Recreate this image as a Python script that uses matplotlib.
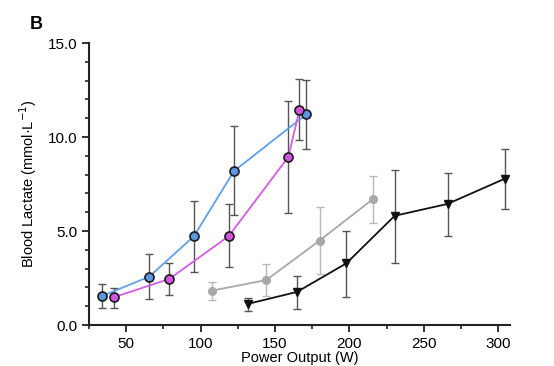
import matplotlib.pyplot as plt
from matplotlib.ticker import MultipleLocator

plt.rcParams['font.family'] = ['Liberation Sans', 'DejaVu Sans']

# blue series (circles)
blue_x = [34, 65.5, 95.5, 122.5, 171]
blue_y = [1.55, 2.57, 4.72, 8.19, 11.2]
blue_lo = [0.89, 1.37, 2.84, 5.84, 9.38]
blue_hi = [2.16, 3.76, 6.61, 10.57, 13.03]

# magenta series (circles)
pink_x = [41.5, 79, 119, 159, 166.5]
pink_y = [1.47, 2.45, 4.73, 8.94, 11.45]
pink_lo = [0.92, 1.6, 3.1, 5.94, 9.82]
pink_hi = [1.95, 3.28, 6.42, 11.93, 13.09]

# grey series
grey_x = [107.7, 144.2, 180, 215.7]
grey_y = [1.83, 2.39, 4.49, 6.69]
grey_lo = [1.33, 1.54, 2.71, 5.41]
grey_hi = [2.3, 3.23, 6.28, 7.95]

# black series (triangles)
black_x = [131.6, 164.8, 198, 230.5, 266, 304.4]
black_y = [1.12, 1.76, 3.28, 5.81, 6.44, 7.78]
black_lo = [0.74, 0.84, 1.51, 3.3, 4.75, 6.15]
black_hi = [1.45, 2.62, 4.98, 8.26, 8.07, 9.38]


def err(y, lo, hi):
    return [[a - b for a, b in zip(y, lo)], [b - a for a, b in zip(y, hi)]]


fig = plt.figure(figsize=(5.54, 3.66), dpi=100)
ax = fig.add_axes([0.1606, 0.112, 0.76, 0.7705])

ebar = '#555555'
# error bars first
ax.errorbar(blue_x, blue_y, yerr=err(blue_y, blue_lo, blue_hi), fmt='none',
            ecolor=ebar, elinewidth=1, capsize=3, capthick=1, zorder=2)
ax.errorbar(pink_x, pink_y, yerr=err(pink_y, pink_lo, pink_hi), fmt='none',
            ecolor=ebar, elinewidth=1, capsize=3, capthick=1, zorder=2)
ax.errorbar(grey_x, grey_y, yerr=err(grey_y, grey_lo, grey_hi), fmt='none',
            ecolor='#b8b8b8', elinewidth=1, capsize=3, capthick=1, zorder=2)
ax.errorbar(black_x, black_y, yerr=err(black_y, black_lo, black_hi), fmt='none',
            ecolor=ebar, elinewidth=1, capsize=3, capthick=1, zorder=2)

ax.plot(blue_x, blue_y, color='#5f9fe4', lw=1.3, marker='o', ms=6.5,
        mfc='#5a97e0', mec='#1a1a1a', mew=1.2, zorder=4)
ax.plot(pink_x, pink_y, color='#d35ce3', lw=1.3, marker='o', ms=6.5,
        mfc='#d155dd', mec='#1a1a1a', mew=1.2, zorder=4)
ax.plot(grey_x, grey_y, color='#a8a8a8', lw=1.3, marker='o', ms=5.5,
        mfc='#a8a8a8', mec='#a8a8a8', zorder=3)
ax.plot(black_x, black_y, color='#111111', lw=1.3, marker='v', ms=6,
        mfc='#111111', mec='#111111', zorder=3)

ax.set_xlim(25, 308)
ax.set_ylim(0, 15)
ax.xaxis.set_major_locator(MultipleLocator(50))
ax.xaxis.set_minor_locator(MultipleLocator(25))
ax.yaxis.set_major_locator(MultipleLocator(5))
ax.yaxis.set_minor_locator(MultipleLocator(1))
ax.set_yticklabels(['%.1f' % v for v in ax.get_yticks()])

for s in ['top', 'right']:
    ax.spines[s].set_visible(False)
for s in ['left', 'bottom']:
    ax.spines[s].set_linewidth(1.5)
    ax.spines[s].set_color('#222222')
ax.tick_params(which='major', length=5, width=1.3, labelsize=11, colors='#222222', labelcolor='black')
ax.tick_params(which='minor', length=3, width=1.2, colors='#222222')

ax.set_ylabel('Blood Lactate (mmol·L$^{-1}$)', fontsize=10.5, labelpad=6)
ax.set_xlabel('Power Output (W)', fontsize=10.5, labelpad=0)
fig.text(0.054, 0.92, 'B', fontsize=13, fontweight='bold')

fig.savefig('out.png', dpi=100)
